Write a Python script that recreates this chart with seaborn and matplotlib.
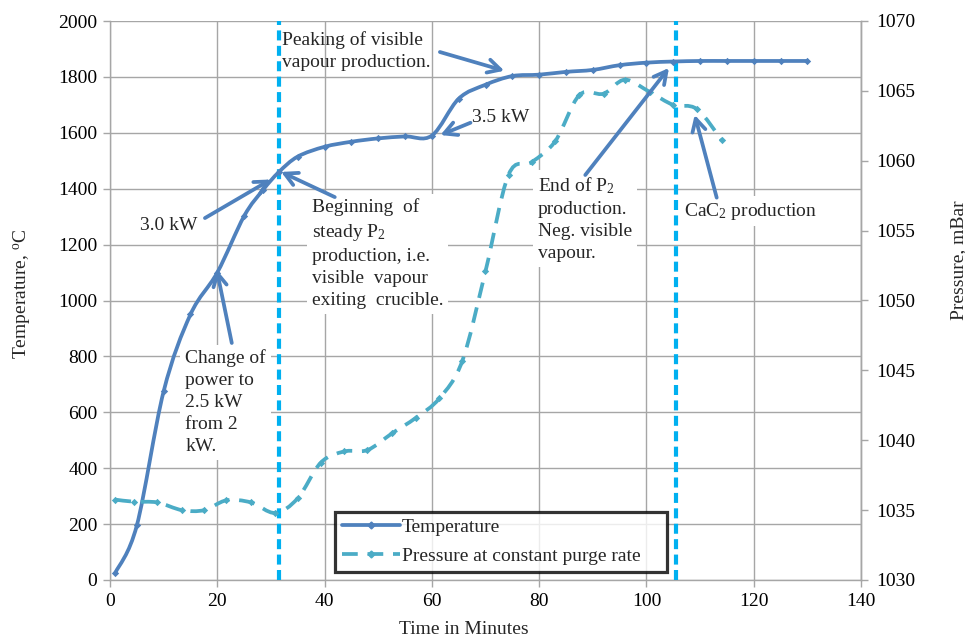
import numpy as np
import matplotlib
matplotlib.use("Agg")
import matplotlib.pyplot as plt
import seaborn as sns
from matplotlib.path import Path
from matplotlib.patches import PathPatch
from matplotlib.lines import Line2D

# ---------------- data ----------------
t_time = [1, 5, 10, 15, 20, 25, 28.5, 31.5, 35, 40, 45, 50, 55, 60, 65, 70,
          75, 80, 85, 90, 95, 100, 105, 110, 115, 120, 125, 130]
temperature = [26, 195, 675, 950, 1100, 1302, 1395, 1460, 1515, 1550, 1568,
               1580, 1587, 1590, 1722, 1772, 1803, 1808, 1818, 1825, 1842,
               1851, 1855, 1857, 1857, 1857, 1857, 1857]

p_time = [1, 4.5, 8.8, 13.4, 17.6, 21.7, 26.3, 30.8, 35, 39.3, 43.7, 48, 52.6,
          57, 61.4, 65.7, 70, 74.3, 78.6, 83, 87.5, 92, 96, 100.7, 105, 109.4,
          114]
pressure = [1035.75, 1035.6, 1035.55, 1035.0, 1035.0, 1035.7, 1035.55, 1034.8,
            1035.85, 1038.4, 1039.2, 1039.3, 1040.5, 1041.6, 1043.0, 1045.7,
            1052.1, 1059.0, 1059.9, 1061.4, 1064.7, 1064.8, 1065.8, 1064.9,
            1064.0, 1063.7, 1061.5]

event_lines = [31.5, 105.5]

x_ticks = list(range(0, 141, 20))
t_ticks = list(range(0, 2001, 200))
p_ticks = list(range(1030, 1071, 5))

series_labels = ["Temperature", "Pressure at constant purge rate"]

C_TEMP = "#4F81BD"
C_PRES = "#4BACC6"
C_VLINE = "#00B0F0"
C_GRID = "#A6A6A6"

# ---------------- style ----------------
sns.set_theme(style="white")
plt.rcParams["font.family"] = ["Liberation Serif", "DejaVu Serif"]
plt.rcParams["mathtext.fontset"] = "custom"
plt.rcParams["mathtext.rm"] = "Liberation Serif"
plt.rcParams["mathtext.it"] = "Liberation Serif:italic"
FS = 14


def smooth_path(xs, ys):
    """Excel-like smoothed line: cubic Bezier segments (Catmull-Rom tangents)."""
    pts = np.column_stack([xs, ys]).astype(float)
    n = len(pts)
    verts = [pts[0]]
    codes = [Path.MOVETO]
    for i in range(n - 1):
        p0 = pts[i - 1] if i > 0 else pts[i]
        p1 = pts[i]
        p2 = pts[i + 1]
        p3 = pts[i + 2] if i + 2 < n else pts[i + 1]
        c1 = p1 + (p2 - p0) / 6.0
        c2 = p2 - (p3 - p1) / 6.0
        verts += [c1, c2, p2]
        codes += [Path.CURVE4] * 3
    return Path(np.array(verts), codes)


fig = plt.figure(figsize=(9.65, 6.42), dpi=100)
ax = fig.add_axes([110 / 965, 1 - 580 / 642, 751 / 965, 559 / 642])
ax2 = ax.twinx()

ax.set_xlim(0, 140)
ax.set_ylim(0, 2000)
ax2.set_ylim(1030, 1070)

ax.set_xticks(x_ticks)
ax.set_yticks(t_ticks)
ax2.set_yticks(p_ticks)

ax.grid(True, color=C_GRID, lw=1.0, zorder=0)
ax.set_axisbelow(True)
ax2.grid(False)

for a in (ax, ax2):
    for s in a.spines.values():
        s.set_color(C_GRID)
        s.set_linewidth(1.0)
    a.spines["top"].set_visible(False)
ax2.spines["left"].set_visible(False)
ax2.spines["bottom"].set_visible(False)

ax.tick_params(axis="both", direction="out", length=5, width=1, color=C_GRID,
               labelsize=FS, labelcolor="black", pad=4)
ax.tick_params(axis="y", left=True, right=False)
ax.tick_params(axis="x", bottom=True)
ax2.tick_params(axis="y", direction="out", length=5, width=1, color=C_GRID,
                labelsize=FS, labelcolor="black", right=True, pad=6)

ax.set_xlabel("Time in Minutes", fontsize=FS)
ax.xaxis.set_label_coords(0.4707, -0.074)
ax.set_ylabel(r"Temperature, $^{\mathrm{o}}$C", fontsize=FS)
ax.yaxis.set_label_coords(-0.102, 0.512)
ax2.set_ylabel("Pressure, mBar", fontsize=FS)
ax2.yaxis.set_label_coords(1.118, 0.572)

# vertical event lines
for xv in event_lines:
    ax.axvline(xv, color=C_VLINE, lw=3, linestyle=(0, (2.4, 1.3)), zorder=4)

# temperature series
ax.add_patch(PathPatch(smooth_path(t_time, temperature), fill=False,
                       edgecolor=C_TEMP, lw=2.7, zorder=6, capstyle="round"))
sns.scatterplot(x=t_time, y=temperature, ax=ax, marker="D", s=14,
                color=C_TEMP, edgecolor=C_TEMP, linewidth=0, zorder=7,
                legend=False)

# pressure series
ax2.add_patch(PathPatch(smooth_path(p_time, pressure), fill=False,
                        edgecolor=C_PRES, lw=2.7, linestyle=(0, (4.2, 2.6)),
                        zorder=6))
sns.scatterplot(x=p_time, y=pressure, ax=ax2, marker="D", s=14,
                color=C_PRES, edgecolor=C_PRES, linewidth=0, zorder=7,
                legend=False)
ax2.set_ylim(1030, 1070)
ax.set_ylim(0, 2000)
ax.set_xlim(0, 140)

# ---------------- annotations ----------------
box = dict(boxstyle="square,pad=0.25", fc="white", ec="none")
arrow_kw = dict(arrowstyle="->,head_length=0.75,head_width=0.4", lw=2.7,
                color=C_TEMP, shrinkA=0, shrinkB=0)


def T2P(t):
    return 1030 + t / 2000 * 40


def note(text, x, y, ha="left", va="top", bg=True):
    ax2.text(x, T2P(y), text, fontsize=FS, ha=ha, va=va, zorder=5,
             linespacing=1.38, bbox=box if bg else None)


def arrow(tail, head):
    ax2.annotate("", xy=(head[0], T2P(head[1])),
                 xytext=(tail[0], T2P(tail[1])), arrowprops=arrow_kw,
                 zorder=8)


note("Peaking of visible\nvapour production.", 32.0, 1962, bg=False)
arrow((61.5, 1889), (73.5, 1822))

note("3.0 kW", 16.3, 1270, ha="right", va="center", bg=False)
arrow((17.7, 1295), (30.0, 1433))

note("Beginning  of\nsteady P$_2$\nproduction, i.e.\nvisible  vapour\nexiting  crucible.",
     37.6, 1365)
arrow((41.9, 1370), (31.9, 1460))

note("3.5 kW", 67.5, 1655, va="center", bg=False)
arrow((67.2, 1636), (61.6, 1592))

note("Change of\npower to\n2.5 kW\nfrom 2\nkW.", 14.0, 825)
arrow((22.7, 848), (19.9, 1110))

note("End of P$_2$\nproduction.\nNeg. visible\nvapour.", 79.8, 1448)
arrow((88.6, 1449), (104.2, 1832))

note("CaC$_2$ production", 107.0, 1320, va="center")
arrow((113.1, 1368), (109.0, 1664))

# ---------------- legend ----------------
handles = [
    Line2D([], [], color=C_TEMP, lw=2.7, marker="D", ms=3.5),
    Line2D([], [], color=C_PRES, lw=2.7, marker="D", ms=3.5,
           linestyle=(0, (4.2, 2.6))),
]
leg = ax2.legend(handles, series_labels, loc="lower left",
                 bbox_to_anchor=(0.2996, 0.0143, 0.442, 0.115), mode="expand",
                 borderaxespad=0, fontsize=FS, frameon=True, fancybox=False,
                 handlelength=3.0, handletextpad=0.1, labelspacing=0.6,
                 borderpad=0.35)
leg.get_frame().set_edgecolor("black")
leg.get_frame().set_linewidth(2.3)
leg.set_zorder(10)

fig.savefig("out.png", dpi=100, facecolor="white")
